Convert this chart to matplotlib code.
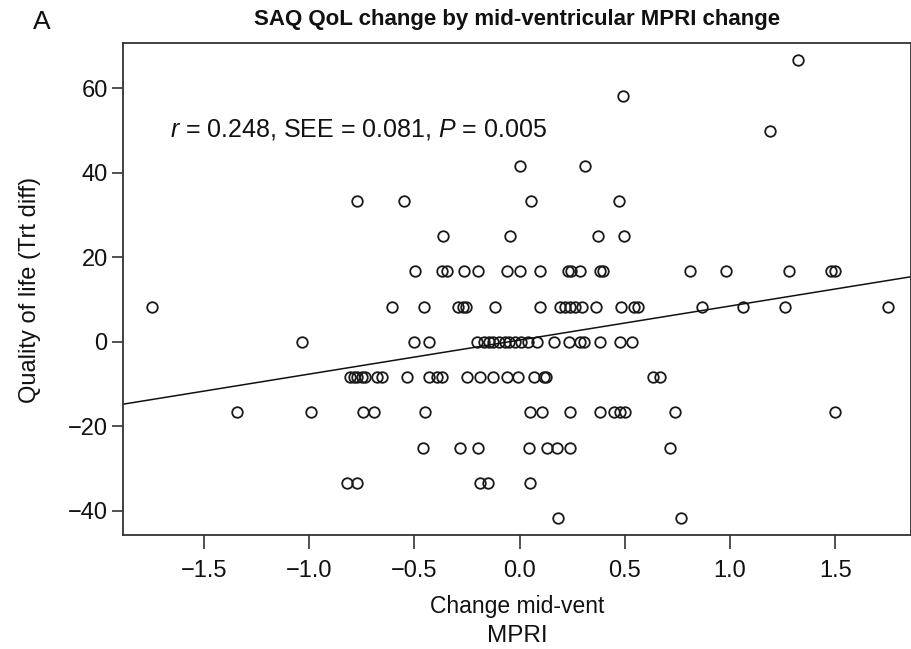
import matplotlib
matplotlib.use("Agg")
import matplotlib.pyplot as plt
import numpy as np

plt.rcParams['font.family'] = ['Liberation Sans', 'DejaVu Sans']
plt.rcParams['mathtext.fontset'] = 'custom'
plt.rcParams['mathtext.rm'] = 'Liberation Sans'
plt.rcParams['mathtext.it'] = 'Liberation Sans:italic'

# QoL levels (SAQ steps of 100/12)
qol_levels = [66.7, 58.3, 50.0, 41.7, 33.3, 25.0, 16.7, 8.3, 0.0, -8.3, -16.7, -25.0, -33.3, -41.7]

# MPRI change values observed at each QoL level
x_66_7 = [1.322]
x_58_3 = [0.491]
x_50_0 = [1.191]
x_41_7 = [0.0, 0.311]
x_33_3 = [-0.770, -0.548, 0.054, 0.474]
x_25_0 = [-0.364, -0.046, 0.375, 0.497]
x_16_7 = [-0.496, -0.368, -0.344, -0.266, -0.195, -0.060, 0.003, 0.098, 0.230, 0.244,
          0.288, 0.383, 0.396, 0.811, 0.979, 1.280, 1.481, 1.496]
x_8_3 = [-1.746, -0.606, -0.456, -0.290, -0.269, -0.253, -0.115, 0.098, 0.193, 0.217,
         0.241, 0.264, 0.296, 0.364, 0.482, 0.542, 0.561, 0.866, 1.061, 1.259, 1.750]
x_0_0 = [-1.034, -0.499, -0.431, -0.200, -0.171, -0.147, -0.124, -0.097, -0.071, -0.048,
         -0.020, 0.007, 0.038, 0.083, 0.162, 0.233, 0.288, 0.304, 0.383, 0.478, 0.534]
x_m8_3 = [-0.804, -0.788, -0.770, -0.749, -0.733, -0.677, -0.653, -0.535, -0.432, -0.392,
          -0.369, -0.250, -0.187, -0.124, -0.060, -0.005, 0.067, 0.114, 0.126, 0.634, 0.668]
x_m16_7 = [-1.343, -0.991, -0.744, -0.690, -0.448, 0.050, 0.106, 0.241, 0.380, 0.451,
           0.478, 0.501, 0.738, 1.496]
x_m25_0 = [-0.459, -0.282, -0.195, 0.043, 0.130, 0.178, 0.241, 0.716]
x_m33_3 = [-0.817, -0.773, -0.187, -0.150, 0.048]
x_m41_7 = [0.185, 0.767]

x_groups = [x_66_7, x_58_3, x_50_0, x_41_7, x_33_3, x_25_0, x_16_7, x_8_3, x_0_0,
            x_m8_3, x_m16_7, x_m25_0, x_m33_3, x_m41_7]

# regression line
line_intercept = 0.43
line_slope = 8.06

x_ticks = [-1.5, -1.0, -0.5, 0.0, 0.5, 1.0, 1.5]
x_tick_labels = ['\u22121.5', '\u22121.0', '\u22120.5', '0.0', '0.5', '1.0', '1.5']
y_ticks = [-40, -20, 0, 20, 40, 60]
y_tick_labels = ['\u221240', '\u221220', '0', '20', '40', '60']

xs = np.concatenate([np.array(g, dtype=float) for g in x_groups])
ys = np.concatenate([np.full(len(g), lvl) for g, lvl in zip(x_groups, qol_levels)])

fig = plt.figure(figsize=(9.12, 6.49), dpi=100)
ax = fig.add_axes([123/912, 1 - 535/649, (911-123)/912, (535-42.7)/649])

xlim = (-1.883, 1.859)
ylim = (-45.7, 70.8)
ax.set_xlim(*xlim)
ax.set_ylim(*ylim)

ax.plot(xs, ys, linestyle='none', marker='o', ms=7.6, mfc='none', mec='#1a1a1a', mew=1.3)
lx = np.array(xlim)
ax.plot(lx, line_intercept + line_slope * lx, color='#111111', lw=1.1)

ax.set_xticks(x_ticks)
ax.set_xticklabels(x_tick_labels)
ax.set_yticks(y_ticks)
ax.set_yticklabels(y_tick_labels)
ax.tick_params(axis='both', labelsize=17, width=1.1, color='#222222', labelcolor='#111111')
ax.tick_params(axis='x', length=10, pad=8)
ax.tick_params(axis='y', length=8, pad=3)
for s in ax.spines.values():
    s.set_linewidth(1.3)
    s.set_color('#333333')

fig.text(517/912, 1 - 606/649, 'Change mid-vent', ha='center', va='center', fontsize=16.5, color='#111111')
fig.text(517/912, 1 - 636/649, 'MPRI', ha='center', va='center', fontsize=17.5, color='#111111')
fig.text(30/912, 1 - 290/649, 'Quality of life (Trt diff)', ha='center', va='center',
         rotation=90, fontsize=17, color='#111111')

fig.text(517/912, 1 - 20/649, 'SAQ QoL change by mid-ventricular MPRI change', ha='center', va='center',
         fontsize=16, fontweight='bold', color='#111111')
fig.text(42/912, 1 - 22/649, 'A', ha='center', va='center', fontsize=19, color='#111111')

fig.text(170/912, 1 - 130/649, r'$r$ = 0.248, SEE = 0.081, $P$ = 0.005', ha='left', va='center',
         fontsize=18, color='#111111')

fig.savefig('out.png', dpi=100)
